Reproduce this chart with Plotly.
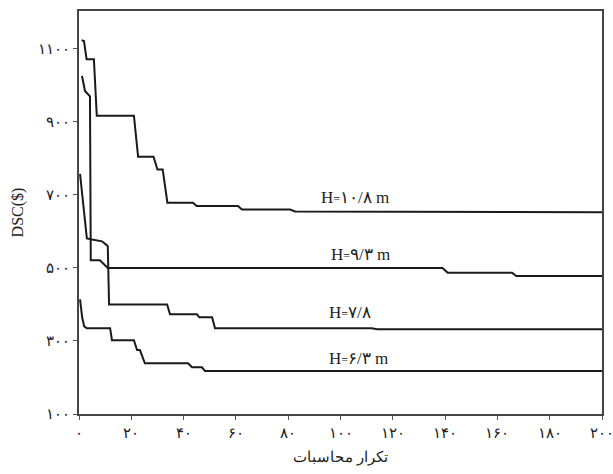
import plotly.graph_objects as go

# ---- data ----
h108_x = [1, 1.9, 2.9, 5.7, 6.8, 21, 22.6, 28.5, 30, 32, 33.8, 43.6, 45, 60.8, 62.3, 80.7, 82.6, 179, 181, 200]
h108_y = [1124, 1122, 1072, 1072, 917, 917, 805, 805, 770, 770, 679, 679, 670, 670, 660, 660, 655, 655, 653, 653]

h93_x = [1, 1.2, 2.3, 2.9, 3.6, 4.2, 4.5, 8, 11, 139, 141, 165.6, 167.2, 200]
h93_y = [1026, 1024, 985, 980, 977, 970, 521, 521, 500, 500, 487, 487, 478, 478]

h78_x = [0.4, 3, 5, 8.8, 10.7, 11, 11.5, 33.7, 34.8, 45.1, 46, 50.9, 52, 112, 114, 200]
h78_y = [758, 581, 578, 573, 562, 560, 400, 400, 373, 373, 365, 365, 335, 335, 332, 332]

h63_x = [0.4, 1.2, 2, 3, 11.9, 12.6, 21, 22.2, 23.3, 24, 25.2, 41.7, 43.2, 47, 48.2, 200]
h63_y = [414, 365, 340, 335, 335, 302, 302, 275, 275, 262, 239, 239, 228, 228, 218, 218]

series_h = ["۱۰/۸ m", "۹/۳ m", "۷/۸", "۶/۳ m"]
label_x = [105.5, 107.5, 103.6, 106.7]
label_y = [692, 536, 377, 253]

x_tickvals = [0, 20, 40, 60, 80, 100, 120, 140, 160, 180, 200]
x_ticktext = ["۰", "۲۰", "۴۰", "۶۰", "۸۰", "۱۰۰", "۱۲۰", "۱۴۰", "۱۶۰", "۱۸۰", "۲۰۰"]
y_tickvals = [100, 300, 500, 700, 900, 1100]
y_ticktext = ["۱۰۰", "۳۰۰", "۵۰۰", "۷۰۰", "۹۰۰", "۱۱۰۰"]

x_title = "تکرار محاسبات"
y_title = "DSC($)"

fig = go.Figure()
for xs, ys in [(h108_x, h108_y), (h93_x, h93_y), (h78_x, h78_y), (h63_x, h63_y)]:
    fig.add_trace(go.Scatter(x=xs, y=ys, mode="lines",
                             line=dict(color="#1a1a1a", width=2),
                             showlegend=False, hoverinfo="skip"))

for t, lx, ly in zip(series_h, label_x, label_y):
    fig.add_annotation(x=lx, y=ly,
                       text="H<span style='font-size:12px'>=</span>" + t,
                       showarrow=False, xanchor="center", yanchor="middle",
                       font=dict(family="Liberation Serif, DejaVu Serif, serif", size=17, color="#222"))

fig.update_layout(
    width=613, height=474,
    margin=dict(l=79, r=11, t=11, b=60),
    paper_bgcolor="white", plot_bgcolor="white",
    font=dict(family="Liberation Serif, DejaVu Serif, serif", color="#222"),
    xaxis=dict(range=[0, 200], tickvals=x_tickvals, ticktext=x_ticktext,
               ticks="outside", ticklen=4, tickcolor="#555",
               showgrid=False, zeroline=False, automargin=False,
               ticklabeloverflow="allow",
               showline=True, linecolor="#444", linewidth=2, mirror=True,
               tickfont=dict(size=15),
               title=dict(text=x_title, font=dict(size=15), standoff=11)),
    yaxis=dict(range=[100, 1204], tickvals=y_tickvals, ticktext=y_ticktext,
               ticks="outside", ticklen=4, tickcolor="#555",
               showgrid=False, zeroline=False, automargin=False,
               ticklabeloverflow="allow",
               showline=True, linecolor="#444", linewidth=2, mirror=True,
               tickfont=dict(size=15),
               title=dict(text=y_title, font=dict(size=16), standoff=10)),
)

fig.write_html("out.html", config={"displayModeBar": False},
               post_script="document.body.style.margin='0';")
